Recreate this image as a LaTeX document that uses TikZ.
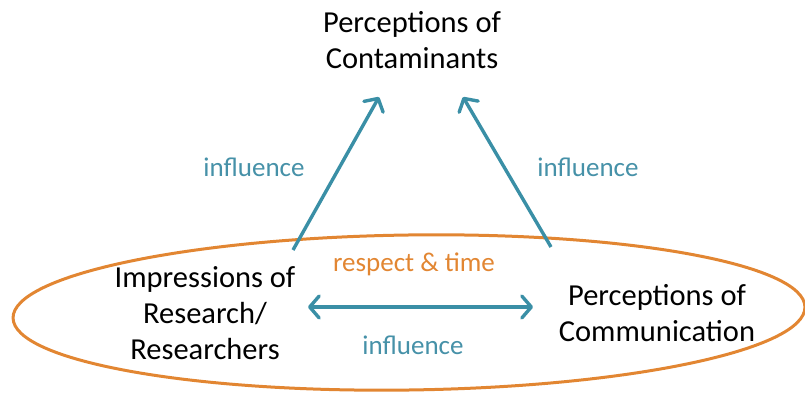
\documentclass[tikz,border=0pt]{standalone}
\usepackage{fontspec}
\setmainfont{Carlito}
\usetikzlibrary{arrows.meta}
\definecolor{teal}{RGB}{58,143,166}
\definecolor{tealtext}{RGB}{70,145,168}
\definecolor{orng}{RGB}{226,134,50}
\begin{document}
\begin{tikzpicture}[x=1pt,y=1pt,
  concept/.style={align=center,inner sep=0pt,font=\fontsize{30.5}{36}\selectfont,text=black},
  lbl/.style={inner sep=0pt,anchor=base,font=\fontsize{27}{32}\selectfont,text=tealtext},
  barb/.tip={Straight Barb[length=9.5pt,width=22pt,line cap=round,line join=round]},
  infl/.style={draw=teal,line width=3.4pt,arrows={-barb}},
  infl2/.style={draw=teal,line width=3.4pt,arrows={barb-barb}}]
\useasboundingbox (0,0) rectangle (805,398);

% group ring around the two lower concepts
\draw[orng,line width=3pt,rotate around={0.8:(409,85.5)}] (409,85.5) ellipse [x radius=396,y radius=77.5];

% concepts
\node[concept] (cont) at (412,358) {Perceptions of\\Contaminants};
\node[concept] (res) at (205,85) {Impressions of\\Research/\\Researchers};
\node[concept] (comm) at (657,85) {Perceptions of\\Communication};

% arrow end points
\coordinate (lfoot) at (293,148);
\coordinate (lhead) at (379,301);
\coordinate (rfoot) at (551,151);
\coordinate (rhead) at (463,301);
\coordinate (hl) at (308,91);
\coordinate (hr) at (533,91);

\draw[infl] (lfoot) -- (lhead);
\draw[infl] (rfoot) -- (rhead);
\draw[infl2] (hl) -- (hr);

% labels
\node[lbl] (il) at (254,221) {influence};
\node[lbl] (ir) at (588,221) {influence};
\node[lbl] (ib) at (413,43) {influence};
\node[lbl,text=orng] (rt) at (414,126) {respect \& time};
\end{tikzpicture}
\end{document}
